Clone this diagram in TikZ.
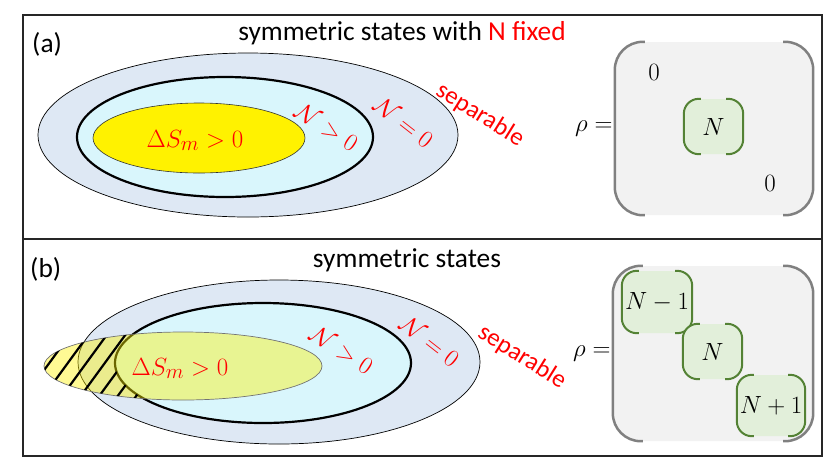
\documentclass[tikz,border=0pt]{standalone}
\usepackage[no-math]{fontspec}
\setmainfont{Carlito}
\usetikzlibrary{positioning}
\definecolor{sepblue}{HTML}{DEE8F4}
\definecolor{entcyan}{HTML}{D9F6FC}
\definecolor{matgray}{HTML}{F2F2F2}
\definecolor{edgegray}{HTML}{808080}
\definecolor{blkgreen}{HTML}{548235}
\definecolor{blkfill}{HTML}{E2EFDA}
\tikzset{
  pan/.style={x=1pt,y=-1pt},
  frame/.style={draw=black!85,line width=1.8pt},
  outerset/.style={fill=sepblue,draw=black,line width=0.7pt},
  innerset/.style={fill=entcyan,draw=black,line width=2.2pt},
  gainA/.style={fill=yellow,draw=black!80,line width=0.6pt},
  gainB/.style={fill=yellow,fill opacity=0.42,draw=black!55,line width=0.7pt},
  hatchline/.style={draw=black,line width=2.2pt},
  tag/.style={anchor=base west,inner sep=0pt,font=\fontsize{27.4}{32}\selectfont},
  title/.style={anchor=base,inner sep=0pt,font=\fontsize{27.4}{32}\selectfont},
  redmath/.style={text=red,inner sep=0pt,font=\fontsize{24.88}{30}\selectfont},
  redtext/.style={text=red,inner sep=0pt,font=\fontsize{25}{30}\selectfont},
  entry/.style={inner sep=0pt,font=\fontsize{24.88}{30}\selectfont},
  matbg/.style={fill=matgray,rounded corners=28pt,inner sep=0pt},
  blk/.style={fill=blkfill,rounded corners=15pt,inner sep=0pt,font=\fontsize{24.88}{30}\selectfont},
  matedge/.style={draw=edgegray,line width=2.5pt,rounded corners=28pt},
  blkedge/.style={draw=blkgreen,line width=2pt,rounded corners=15pt},
}
% round brackets on both sides of a node: name, stub, style
\newcommand{\rbrackets}[3]{%
  \draw[#3] ([xshift=#2]#1.north west) -- (#1.north west) -- (#1.south west) -- ([xshift=#2]#1.south west);
  \draw[#3] ([xshift=-#2]#1.north east) -- (#1.north east) -- (#1.south east) -- ([xshift=-#2]#1.south east);
}
\begin{document}
\begin{tikzpicture}[pan]
  \useasboundingbox (0,0) rectangle (830,467);
  \draw[frame] (23,15) rectangle (822,456);
  \draw[frame] (23,239) -- (822,239);

  % panel (a)
  \node[tag] (tagA) at (32,52) {(a)};
  \node[title] (titA) at (402,40) {symmetric states with \textcolor{red}{N fixed}};
  \path[outerset] (248,135) ellipse [x radius=210, y radius=82];
  \path[innerset] (225,137) ellipse [x radius=148, y radius=60];
  \path[gainA] (199,138) ellipse [x radius=106, y radius=35];
  \node[redmath,anchor=base] (dsA) at (195,147) {$\Delta S_m > 0$};
  \node[redmath,rotate=-33] (posA) at (327,127) {$\mathcal{N} > 0$};
  \node[redmath,rotate=-38] (nulA) at (404,122) {$\mathcal{N} = 0$};
  \node[redtext,rotate=-32] (sepA) at (480,115) {separable};

  \node[matbg,minimum width=198pt,minimum height=173pt] (rhoA) at (714,128.5) {};
  \rbrackets{rhoA}{30pt}{matedge}
  \node[blk,minimum width=59pt,minimum height=55pt] (blkA) at (713.5,126.5) {$N$};
  \rbrackets{blkA}{17pt}{blkedge}
  \node[entry] (zA1) at (654,72) {$0$};
  \node[entry] (zA2) at (770,183) {$0$};
  \node[entry,left=2pt of rhoA] (eqA) {$\rho =$};

  % panel (b)
  \node[tag] (tagB) at (30,277) {(b)};
  \node[title] (titB) at (407,267) {symmetric states};
  \path[outerset] (279,362) ellipse [x radius=201, y radius=82];
  \path[innerset] (263,363) ellipse [x radius=148, y radius=60];
  \path[gainB] (183,366) ellipse [x radius=139, y radius=34];
  \begin{scope}[even odd rule]
    \clip (183,366) ellipse [x radius=139, y radius=34];
    \clip (30,300) rectangle (330,430) (263,363) ellipse [x radius=148, y radius=60];
    \foreach \k in {0,...,8}
      \draw[hatchline] (15+18.5*\k,410) -- ++(73,-100);
  \end{scope}
  \node[redmath,anchor=base] (dsB) at (180,375) {$\Delta S_m > 0$};
  \node[redmath,rotate=-33] (posB) at (342,350) {$\mathcal{N} > 0$};
  \node[redmath,rotate=-38] (nulB) at (430,341) {$\mathcal{N} = 0$};
  \node[redtext,rotate=-32] (sepB) at (522,357) {separable};

  \node[matbg,minimum width=200pt,minimum height=175pt] (rhoB) at (713,353.5) {};
  \rbrackets{rhoB}{30pt}{matedge}
  \node[blk,minimum width=70pt,minimum height=62pt] (blkB1) at (657,302) {$N-1$};
  \rbrackets{blkB1}{17pt}{blkedge}
  \node[blk,minimum width=59pt,minimum height=55pt] (blkB2) at (712.5,351.5) {$N$};
  \rbrackets{blkB2}{17pt}{blkedge}
  \node[blk,minimum width=68pt,minimum height=61pt] (blkB3) at (771,405.5) {$N+1$};
  \rbrackets{blkB3}{17pt}{blkedge}
  \node[entry,left=2pt of rhoB] (eqB) {$\rho =$};
\end{tikzpicture}
\end{document}
